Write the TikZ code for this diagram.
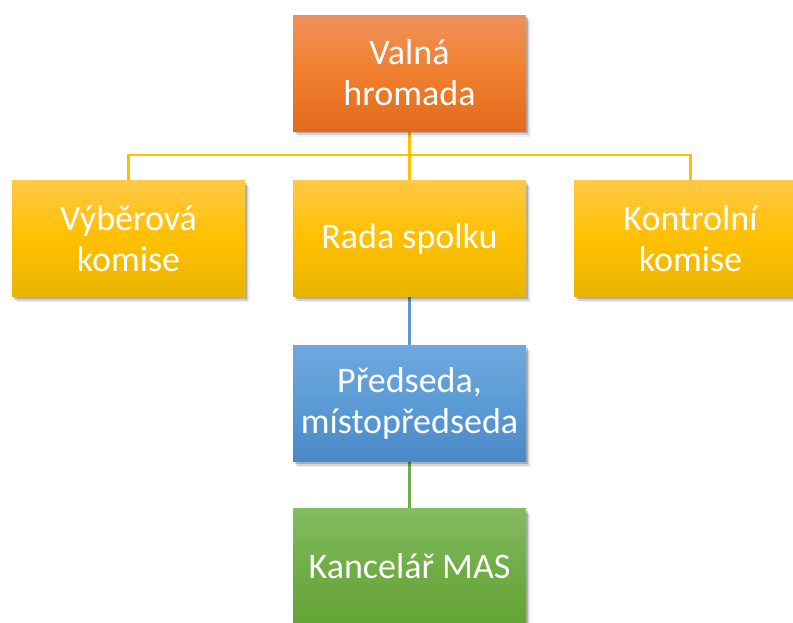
\documentclass[tikz,border=0pt]{standalone}
\usepackage{fontspec}
\setmainfont{Carlito}
\usetikzlibrary{shadows,backgrounds}
\definecolor{orTop}{HTML}{F0915A}
\definecolor{orMid}{HTML}{F07F2E}
\definecolor{orBot}{HTML}{E36A1E}
\definecolor{goTop}{HTML}{FFC846}
\definecolor{goMid}{HTML}{FFC000}
\definecolor{goBot}{HTML}{E8B400}
\definecolor{blTop}{HTML}{6EA8DE}
\definecolor{blMid}{HTML}{5B9BD5}
\definecolor{blBot}{HTML}{4A88C8}
\definecolor{grTop}{HTML}{84BC62}
\definecolor{grMid}{HTML}{70AD47}
\definecolor{grBot}{HTML}{64A434}
\definecolor{lnGold}{HTML}{FFC000}
\definecolor{lnBlue}{HTML}{5B9BD5}
\definecolor{lnGreen}{HTML}{70AD47}
\begin{document}
\begin{tikzpicture}[x=1pt,y=1pt,
  box/.style={minimum width=233pt,minimum height=116pt,inner sep=0pt,
    align=center,text=white,font=\fontsize{36}{41}\selectfont,
    general shadow={shadow xshift=1.5pt,shadow yshift=-2pt,fill=black,opacity=0.18},
    general shadow={shadow xshift=3pt,shadow yshift=-4pt,fill=black,opacity=0.12},
    general shadow={shadow xshift=4.5pt,shadow yshift=-5.5pt,fill=black,opacity=0.06}},
  orbox/.style={box,top color=orTop,bottom color=orBot,middle color=orMid},
  gobox/.style={box,top color=goTop,bottom color=goBot,middle color=goMid},
  blbox/.style={box,top color=blTop,bottom color=blBot,middle color=blMid},
  grbox/.style={box,top color=grTop,bottom color=grBot,middle color=grMid},
  conn/.style={line width=2.6pt}]
\useasboundingbox (0,0) rectangle (793,-622);
\clip (0,0) rectangle (793,-622);
\coordinate (bus) at (409.5,-155);
\node[orbox] (valna) at (409.5,-73) {Valná\\hromada};
\node[gobox] (vyb) at (128.5,-238.5) {Výběrová\\komise};
\node[gobox] (rada) at (409.5,-238.5) {Rada spolku};
\node[gobox] (kon) at (690.5,-238.5) {Kontrolní\\komise};
\node[blbox] (pred) at (409.5,-403.5) {Předseda,\\místopředseda};
\node[grbox] (kanc) at (409.5,-566.5) {Kancelář MAS};
\begin{pgfonlayer}{background}
\draw[conn,draw=lnGold] (valna.south) -- (rada.north);
\draw[conn,draw=lnGold] (vyb.north) |- (bus) -| (kon.north);
\draw[conn,draw=lnBlue] (rada.south) -- (pred.north);
\draw[conn,draw=lnGreen] (pred.south) -- (kanc.north);
\end{pgfonlayer}
\end{tikzpicture}
\end{document}
